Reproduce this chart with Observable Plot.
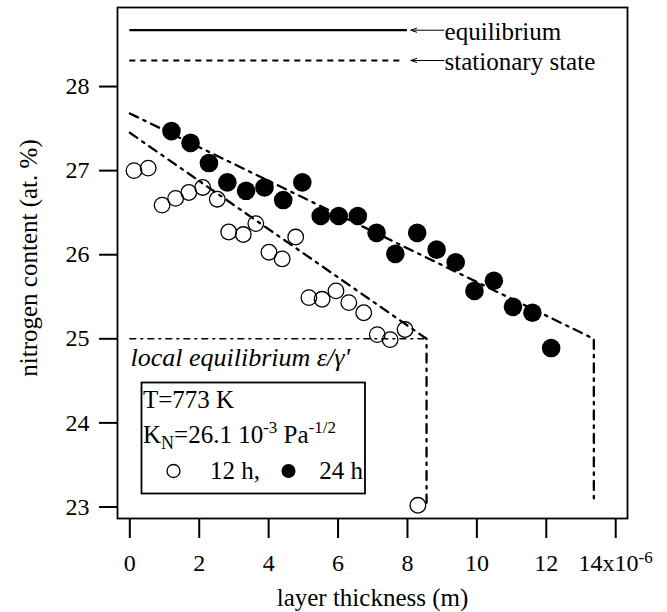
<!DOCTYPE html>
<html><head><meta charset="utf-8">
<script src="https://cdn.jsdelivr.net/npm/d3@7"></script>
<script src="https://cdn.jsdelivr.net/npm/@observablehq/plot@0.6"></script>
<style>body{margin:0;background:#fff}</style>
</head><body><div id="chart"></div>
<script>
// 12 h series (open circles), layer thickness in 1e-6 m, nitrogen at.%
const x12 = [0.12, 0.53, 0.93, 1.32, 1.70, 2.10, 2.52, 2.85, 3.27, 3.63, 4.01, 4.39, 4.78, 5.16, 5.54, 5.94, 6.31, 6.74, 7.13, 7.50, 7.93, 8.30];
const y12 = [27.00, 27.03, 26.59, 26.67, 26.74, 26.80, 26.66, 26.27, 26.24, 26.37, 26.03, 25.95, 26.21, 25.49, 25.47, 25.57, 25.43, 25.31, 25.05, 24.99, 25.11, 23.02];
// 24 h series (filled circles)
const x24 = [1.20, 1.75, 2.28, 2.81, 3.35, 3.88, 4.42, 4.97, 5.50, 6.02, 6.57, 7.11, 7.65, 8.28, 8.84, 9.39, 9.93, 10.49, 11.04, 11.60, 12.14];
const y24 = [27.47, 27.33, 27.09, 26.86, 26.76, 26.80, 26.65, 26.86, 26.46, 26.46, 26.46, 26.26, 26.01, 26.26, 26.06, 25.91, 25.57, 25.69, 25.38, 25.31, 24.89];
// model profiles (dash-dot)
const fit12X = [0, 8.55, 8.55];
const fit12Y = [27.45, 25.0, 23.05];
const fit24X = [0, 13.37, 13.37];
const fit24Y = [27.68, 25.0, 23.03];
const localEqX = [0, 8.55];
const localEqY = [25.0, 25.0];
// reference levels
const refLabels = ["equilibrium", "stationary state"];
const refLevels = [28.67, 28.31];
const refLineEnd = 8.0;
const arrowFrom = 9.05, arrowTo = 8.1;
// ticks
const xTicks = [0, 2, 4, 6, 8, 10, 12, 14];
const yTicks = [23, 24, 25, 26, 27, 28];
const xTitle = "layer thickness (m)";
const yTitle = "nitrogen content (at. %)";
const localEqLabel = "local equilibrium \u03b5/\u03b3\u2032";
const legendSeries = ["12 h,", "24 h"];

const font = "'Liberation Serif', 'Times New Roman', serif";
const d12 = x12.map((x, i) => ({x, y: y12[i]}));
const d24 = x24.map((x, i) => ({x, y: y24[i]}));
const f12 = fit12X.map((x, i) => ({x, y: fit12Y[i]}));
const f24 = fit24X.map((x, i) => ({x, y: fit24Y[i]}));
const leq = localEqX.map((x, i) => ({x, y: localEqY[i]}));
const refs = refLevels.map((v, i) => ({v, label: refLabels[i]}));

const plot = Plot.plot({
  width: 667, height: 612,
  marginLeft: 117, marginRight: 40, marginTop: 7, marginBottom: 94,
  style: {fontSize: "24px", color: "#000", background: "#fff"},
  x: {domain: [-0.355, 14.34]},
  y: {domain: [22.863, 28.94]},
  marks: [
    Plot.frame({stroke: "#000", strokeWidth: 1.8}),
    Plot.axisX({ticks: xTicks, tickSize: 20, tickPadding: 15, strokeWidth: 2, fontSize: 24, label: null,
      tickFormat: d => d === 14 ? "14x10" : String(d)}),
    Plot.axisY({ticks: yTicks, tickSize: 18, tickPadding: 10, strokeWidth: 2, fontSize: 24, label: null,
      tickFormat: d => String(d)}),
    Plot.text([xTitle], {frameAnchor: "bottom", dy: 79, lineAnchor: "middle", fontSize: 25}),
    Plot.text([yTitle], {frameAnchor: "left", dx: -89, dy: -5, rotate: -90, textAnchor: "middle", lineAnchor: "middle", fontSize: 25}),
    Plot.ruleY([refs[0]], {y: "v", x1: 0, x2: refLineEnd, strokeWidth: 2.2}),
    Plot.ruleY([refs[1]], {y: "v", x1: 0, x2: refLineEnd - 0.2, strokeWidth: 2, strokeDasharray: "6,5"}),
    Plot.arrow(refs, {x1: arrowFrom, x2: arrowTo, y1: "v", y2: "v", strokeWidth: 1, headLength: 9, headAngle: 40}),
    Plot.text(refs, {x: arrowFrom + 0.02, y: "v", text: "label", textAnchor: "start", lineAnchor: "middle", fontSize: 25, dy: 2}),
    Plot.line(leq, {x: "x", y: "y", strokeWidth: 1.4, strokeDasharray: "6,5,2,5"}),
    Plot.line(f12, {x: "x", y: "y", strokeWidth: 2.3, strokeDasharray: "9,6,2.5,6"}),
    Plot.line(f24, {x: "x", y: "y", strokeWidth: 2.3, strokeDasharray: "9,6,2.5,6"}),
    Plot.text([localEqLabel], {x: 0.02, y: 24.78, textAnchor: "start", lineAnchor: "middle", fontSize: 26, fontStyle: "italic"}),
    Plot.dot(d12, {x: "x", y: "y", r: 7.8, stroke: "#000", strokeWidth: 1.3, fill: "none"}),
    Plot.dot(d24, {x: "x", y: "y", r: 9.3, fill: "#000", stroke: "none"})
  ]
});
document.getElementById("chart").appendChild(plot);

const svg = d3.select(plot);
// superscript on the last x tick label
svg.selectAll("text").filter(function() { return this.textContent === "14x10"; })
  .each(function() {
    d3.select(this).append("tspan").attr("dy", "-0.45em").attr("font-size", 17).text("-6");
  });

// legend box
const lg = svg.append("g").attr("font-size", 25).attr("fill", "#000").attr("text-anchor", "start");
lg.append("rect").attr("x", 141.5).attr("y", 382.5).attr("width", 223.5).attr("height", 111)
  .attr("fill", "#fff").attr("stroke", "#000").attr("stroke-width", 1.8);
lg.append("text").attr("x", 143).attr("y", 408).text("T=773 K");
const t2 = lg.append("text").attr("x", 143).attr("y", 443);
t2.append("tspan").text("K");
t2.append("tspan").attr("font-size", 18).attr("dy", 6).text("N");
t2.append("tspan").attr("dy", -6).text("=26.1 10");
t2.append("tspan").attr("font-size", 17).attr("dy", -10).text("-3");
t2.append("tspan").attr("dy", 10).text(" Pa");
t2.append("tspan").attr("font-size", 17).attr("dy", -10).text("-1/2");
lg.append("circle").attr("cx", 173.5).attr("cy", 471).attr("r", 6.5).attr("fill", "none").attr("stroke", "#000").attr("stroke-width", 1.3);
lg.append("text").attr("x", 210).attr("y", 479).text(legendSeries[0]);
lg.append("circle").attr("cx", 288.5).attr("cy", 471).attr("r", 7).attr("fill", "#000");
lg.append("text").attr("x", 363).attr("y", 479).attr("text-anchor", "end").text(legendSeries[1]);

// force serif font on every text
svg.selectAll("text").style("font-family", font);
</script>
</body></html>
